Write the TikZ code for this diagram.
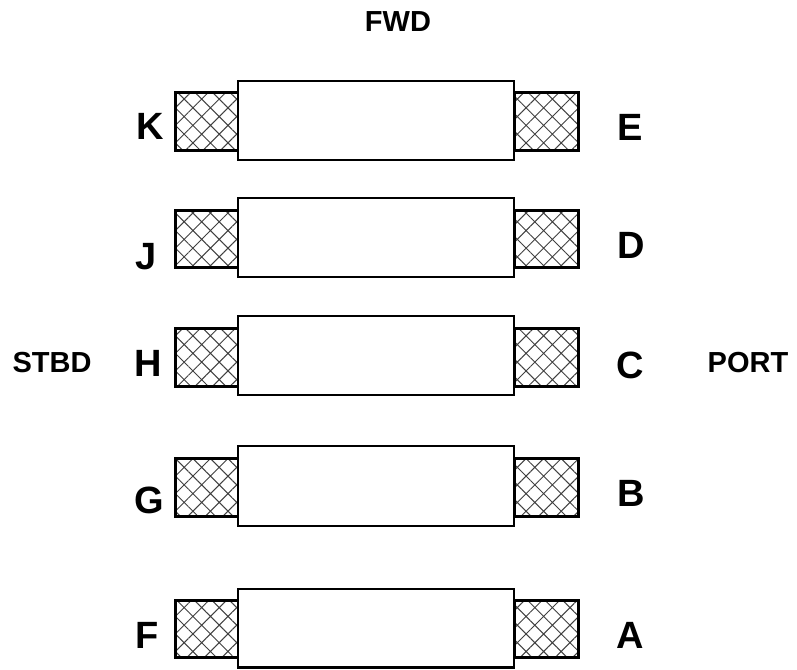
\documentclass[tikz,border=0pt]{standalone}
\usepackage{fontspec}
\setmainfont{Liberation Sans}
\usepackage{tikz}
\usetikzlibrary{patterns.meta}

\tikzset{
	block/.style={draw=black,fill=white,line width=2.4pt},
	mesh/.style={draw=black,line width=3pt,
		pattern={Hatch[angle=45,distance=12.4pt,line width=1pt]},pattern color=black!75},
	letter/.style={font=\fontsize{38}{40}\selectfont\bfseries,inner sep=0pt},
	side/.style={font=\fontsize{29}{31}\selectfont\bfseries,inner sep=0pt}
}

\begin{document}
\begin{tikzpicture}[x=1pt,y=-1pt]
	\useasboundingbox (0,0) rectangle (797,669);
	
	% rows, fwd to aft
	\draw[mesh] (175,92) rectangle (238,150);
	\draw[mesh] (514,92) rectangle (578,150);
	\draw[block] (238,81) rectangle (514,160);
	
	\draw[mesh] (175,210) rectangle (238,267);
	\draw[mesh] (514,210) rectangle (578,267);
	\draw[block] (238,198) rectangle (514,277);
	
	\draw[mesh] (175,328) rectangle (238,386);
	\draw[mesh] (514,328) rectangle (578,386);
	\draw[block] (238,316) rectangle (514,395);
	
	\draw[mesh] (175,458) rectangle (238,516);
	\draw[mesh] (514,458) rectangle (578,516);
	\draw[block] (238,446) rectangle (514,526);
	
	\draw[mesh] (175,600) rectangle (238,657);
	\draw[mesh] (514,600) rectangle (578,657);
	\draw[block] (238,589) rectangle (514,667.5);
	
	% stbd letters
	\node[letter] (k) at (150,126) {K};
	\node[letter] (j) at (146,257) {J};
	\node[letter] (h) at (148,363) {H};
	\node[letter] (g) at (149,500) {G};
	\node[letter] (f) at (147,635) {F};
	
	% port letters
	\node[letter] (e) at (630,127) {E};
	\node[letter] (d) at (631,245) {D};
	\node[letter] (c) at (630,365) {C};
	\node[letter] (b) at (631,493) {B};
	\node[letter] (a) at (630,635) {A};
	
	\node[side] (fwd) at (398,22) {FWD};
	\node[side] (stbd) at (52,363) {STBD};
	\node[side] (port) at (748,363) {PORT};
\end{tikzpicture}
\end{document}
